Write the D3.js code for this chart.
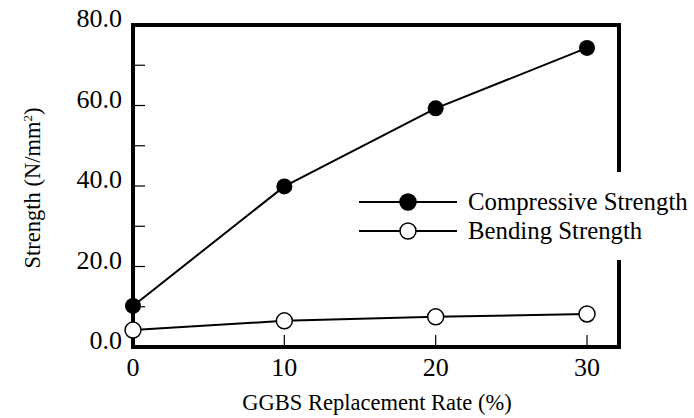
<!DOCTYPE html>
<html>
<head>
<meta charset="utf-8">
<script src="https://cdn.jsdelivr.net/npm/d3@7"></script>
<style>
  body { margin: 0; background: #fff; }
</style>
</head>
<body>
<script>
// data
var rates = [0, 10, 20, 30];
var compressive = [10.2, 39.9, 59.3, 74.3];
var bending = [4.2, 6.5, 7.5, 8.2];
var yLabelTicks = [0, 20, 40, 60, 80];
var yMinorTicks = [10, 30, 50, 70];
var xTicks = [0, 10, 20, 30];

var FONT = "'Liberation Serif', 'Times New Roman', 'DejaVu Serif', serif";

// margin
var W = 694, H = 418;
var margin = {top: 25, right: 75, bottom: 71, left: 133};
var width = W - margin.left - margin.right,
    height = H - margin.top - margin.bottom;

var svg = d3.select("body").append("svg")
    .attr("width", W)
    .attr("height", H)
    .attr("font-family", FONT)
    .style("font-family", FONT);

var g = svg.append("g")
    .attr("transform", "translate(" + margin.left + "," + margin.top + ")");

var x = d3.scaleLinear().domain([0, 30]).range([0, 454]);
var y = d3.scaleLinear().domain([0, 80]).range([height, 0]);

// frame
g.append("rect")
    .attr("width", width)
    .attr("height", height)
    .attr("fill", "none")
    .attr("stroke", "#000")
    .attr("stroke-width", 4);

// y ticks (inward)
g.selectAll(".ytick")
    .data(yLabelTicks.concat(yMinorTicks))
  .enter().append("line")
    .attr("x1", 0).attr("x2", 12)
    .attr("y1", function(d) { return y(d); })
    .attr("y2", function(d) { return y(d); })
    .attr("stroke", "#000")
    .attr("stroke-width", 1.2);

g.selectAll(".ylab")
    .data(yLabelTicks)
  .enter().append("text")
    .attr("x", -11)
    .attr("y", function(d) { return y(d) + 2; })
    .attr("text-anchor", "end")
    .style("font-size", "26px")
    .text(function(d) { return d3.format(".1f")(d); });

// x ticks (inward)
g.selectAll(".xtick")
    .data(xTicks.slice(1))
  .enter().append("line")
    .attr("x1", function(d) { return x(d); })
    .attr("x2", function(d) { return x(d); })
    .attr("y1", height).attr("y2", height - 12)
    .attr("stroke", "#000")
    .attr("stroke-width", 1.2);

g.selectAll(".xlab")
    .data(xTicks)
  .enter().append("text")
    .attr("x", function(d) { return x(d); })
    .attr("y", height + 29)
    .attr("text-anchor", "middle")
    .style("font-size", "26px")
    .text(function(d) { return d; });

// axis titles
svg.append("text")
    .attr("x", 377)
    .attr("y", 410)
    .attr("text-anchor", "middle")
    .style("font-size", "22.5px")
    .text("GGBS Replacement Rate (%)");

var yt = svg.append("text")
    .attr("transform", "translate(40,188) rotate(-90)")
    .attr("text-anchor", "middle")
    .style("font-size", "22.5px");
yt.append("tspan").text("Strength (N/mm");
yt.append("tspan").attr("dy", -8).style("font-size", "13px").text("2");
yt.append("tspan").attr("dy", 8).text(")");

// lines
var line = d3.line()
    .x(function(d, i) { return x(rates[i]); })
    .y(function(d) { return y(d); });

g.append("path")
    .datum(compressive)
    .attr("d", line)
    .attr("fill", "none")
    .attr("stroke", "#000")
    .attr("stroke-width", 2);

g.append("path")
    .datum(bending)
    .attr("d", line)
    .attr("fill", "none")
    .attr("stroke", "#000")
    .attr("stroke-width", 2);

g.selectAll(".pc")
    .data(compressive)
  .enter().append("circle")
    .attr("cx", function(d, i) { return x(rates[i]); })
    .attr("cy", function(d) { return y(d); })
    .attr("r", 8)
    .attr("fill", "#000");

g.selectAll(".pb")
    .data(bending)
  .enter().append("circle")
    .attr("cx", function(d, i) { return x(rates[i]); })
    .attr("cy", function(d) { return y(d); })
    .attr("r", 8)
    .attr("fill", "#fff")
    .attr("stroke", "#000")
    .attr("stroke-width", 1.5);

// legend (white box hides part of the right frame)
var legend = svg.append("g");
legend.append("rect")
    .attr("x", 355).attr("y", 172)
    .attr("width", 339).attr("height", 88)
    .attr("fill", "#fff");

var items = [
  {name: "Compressive Strength", fill: "#000", y: 202},
  {name: "Bending Strength", fill: "#fff", y: 231}
];
var li = legend.selectAll(".li")
    .data(items)
  .enter().append("g");
li.append("line")
    .attr("x1", 359).attr("x2", 457)
    .attr("y1", function(d) { return d.y; })
    .attr("y2", function(d) { return d.y; })
    .attr("stroke", "#000")
    .attr("stroke-width", 2);
li.append("circle")
    .attr("cx", 408)
    .attr("cy", function(d) { return d.y; })
    .attr("r", 8)
    .attr("fill", function(d) { return d.fill; })
    .attr("stroke", "#000")
    .attr("stroke-width", 1.5);
li.append("text")
    .attr("x", 468)
    .attr("y", function(d) { return d.y + 8; })
    .style("font-size", "24.8px")
    .text(function(d) { return d.name; });
</script>
</body>
</html>
